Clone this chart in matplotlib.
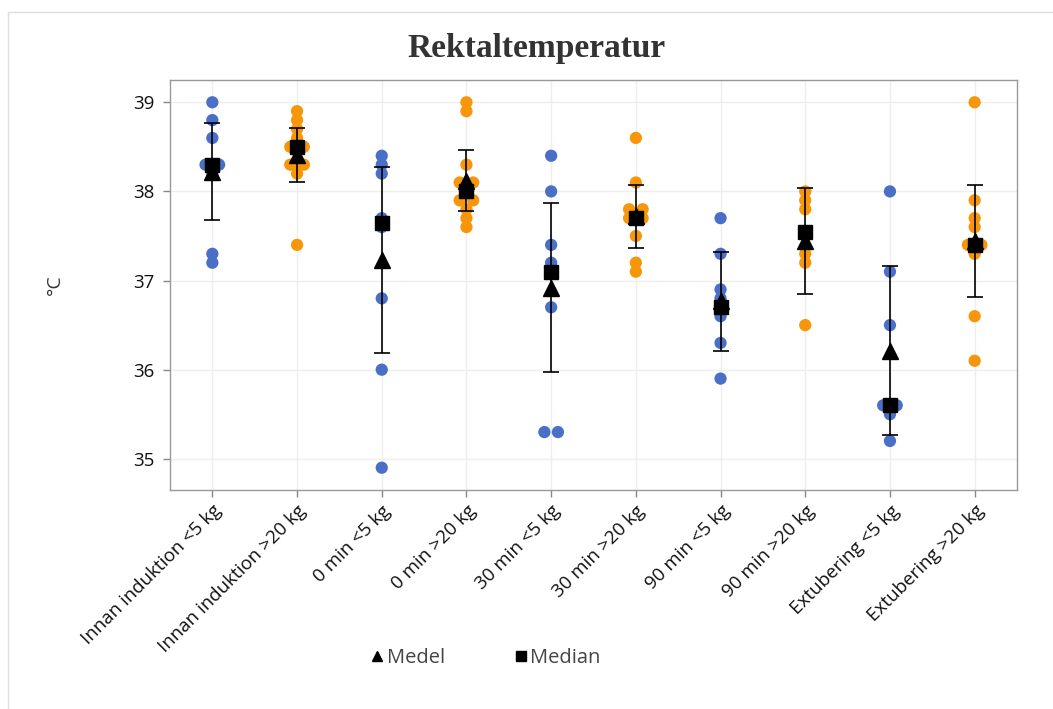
import numpy as np
import matplotlib.pyplot as plt
from matplotlib.lines import Line2D

# Rectal temperature per time point and weight group
categories = ['Innan induktion <5 kg', 'Innan induktion >20 kg',
              '0 min <5 kg', '0 min >20 kg',
              '30 min <5 kg', '30 min >20 kg',
              '90 min <5 kg', '90 min >20 kg',
              'Extubering <5 kg', 'Extubering >20 kg']

innan_lt5 = [39.0, 38.8, 38.6, 38.3, 38.3, 38.3, 38.2, 37.3, 37.2]
innan_gt20 = [38.9, 38.8, 38.7, 38.6, 38.5, 38.5, 38.5, 38.3, 38.3, 38.3, 38.2, 37.4]
min0_lt5 = [38.4, 38.3, 38.2, 37.7, 37.6, 36.8, 36.0, 34.9]
min0_gt20 = [39.0, 38.9, 38.3, 38.1, 38.1, 38.0, 37.9, 37.9, 37.8, 37.7, 37.6]
min30_lt5 = [38.4, 38.0, 37.4, 37.2, 37.1, 36.7, 35.3, 35.3]
min30_gt20 = [38.6, 38.1, 37.8, 37.8, 37.7, 37.7, 37.5, 37.2, 37.1]
min90_lt5 = [37.7, 37.3, 36.9, 36.8, 36.7, 36.6, 36.3, 35.9]
min90_gt20 = [38.0, 37.9, 37.8, 37.3, 37.2, 36.5]
extub_lt5 = [38.0, 37.1, 36.5, 35.6, 35.6, 35.6, 35.5, 35.2]
extub_gt20 = [39.0, 37.9, 37.7, 37.6, 37.4, 37.4, 37.4, 37.3, 36.6, 36.1]

groups = [innan_lt5, innan_gt20, min0_lt5, min0_gt20, min30_lt5,
          min30_gt20, min90_lt5, min90_gt20, extub_lt5, extub_gt20]

# summary values (mean, median, sd)
means = [38.22, 38.41, 37.23, 38.12, 36.92, 37.72, 36.765, 37.445, 36.215, 37.445]
medians = [38.3, 38.5, 37.64, 38.0, 37.1, 37.7, 36.7, 37.55, 35.6, 37.4]
sds = [0.545, 0.30, 1.04, 0.34, 0.945, 0.35, 0.555, 0.595, 0.945, 0.625]

blue = '#4A6FC6'
orange = '#F7960A'

fig = plt.figure(figsize=(10.53, 7.09), dpi=100)
ax = fig.add_axes([170/1053, 1-490/709, 847/1053, 410/709])

# dots, with tied values spread sideways
for i, vals in enumerate(groups):
    color = blue if i % 2 == 0 else orange
    vals = np.array(vals)
    xs = np.full(len(vals), float(i))
    for v in np.unique(vals):
        idx = np.where(np.isclose(vals, v))[0]
        if len(idx) > 1:
            xs[idx] = i + np.linspace(-0.08, 0.08, len(idx))
    ax.scatter(xs, vals, s=78, color=color, edgecolors='none', zorder=3)

x = np.arange(len(categories))
ax.errorbar(x, means, yerr=sds, fmt='none', ecolor='black', elinewidth=1.2,
            capsize=6, capthick=1.2, zorder=4)
ax.plot(x, means, '^', color='black', markersize=11.5, linestyle='none', zorder=5)
ax.plot(x, medians, 's', color='black', markersize=10.5, linestyle='none', zorder=6)

ax.set_xlim(-0.5, 9.5)
ax.set_ylim(34.65, 39.25)
ax.set_yticks([35, 36, 37, 38, 39])
ax.set_xticks(x)
ax.set_xticklabels(categories, rotation=45, ha='right', rotation_mode='anchor',
                   family='Open Sans', fontsize=13.5, color='#111111')
for lbl in ax.get_yticklabels():
    lbl.set_family('Open Sans')
    lbl.set_fontsize(13.5)
    lbl.set_color('#111111')
ax.tick_params(axis='both', color='#888888', length=5, width=1)
ax.tick_params(axis='y', pad=6)
ax.grid(True, color='#EEEEEE', linewidth=1)
ax.set_axisbelow(True)
for sp in ax.spines.values():
    sp.set_color('#999999')
    sp.set_linewidth(1)

fig.text(537/1053, 1-48/709, 'Rektaltemperatur', ha='center', va='center',
         family='Liberation Serif', fontweight='bold', fontsize=24, color='#333333')
fig.text(55/1053, 1-285/709, '°C', ha='center', va='center', rotation=90,
         family='Open Sans', fontsize=14, color='#333333')

# frame round the figure
fig.add_artist(Line2D([8/1053, 1], [1-12/709, 1-12/709], transform=fig.transFigure,
                      color='#DDDDDD', linewidth=1))
fig.add_artist(Line2D([8/1053, 8/1053], [0, 1-12/709], transform=fig.transFigure,
                      color='#DDDDDD', linewidth=1))

handles = [Line2D([], [], marker='^', color='black', linestyle='none', markersize=7.5),
           Line2D([], [], marker='s', color='black', linestyle='none', markersize=7.5)]
leg = fig.legend(handles, ['Medel', 'Median'], loc='center', ncol=2,
                 bbox_to_anchor=(486/1053, 1-658/709), frameon=False,
                 handlelength=0.6, handletextpad=0.15, columnspacing=3.5,
                 prop={'family': 'Open Sans', 'size': 14.5})
for t in leg.get_texts():
    t.set_color('#444444')

fig.savefig('out.png', dpi=100)
